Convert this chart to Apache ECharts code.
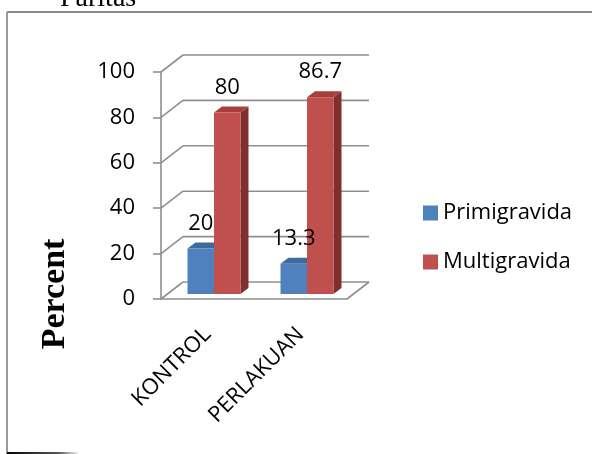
<!DOCTYPE html>
<html>
<head>
<meta charset="utf-8">
<script src="https://cdn.jsdelivr.net/npm/echarts@6/dist/echarts.min.js"></script>
<style>
  html, body { margin: 0; padding: 0; background: #fff; }
  #chart { width: 592px; height: 454px; }
</style>
</head>
<body>
<div id="chart"></div>
<script>
// Chart data
const categories = ['KONTROL', 'PERLAKUAN'];
const primigravida = [20, 13.3];
const multigravida = [80, 86.7];
const yTicks = [0, 20, 40, 60, 80, 100];
const seriesNames = ['Primigravida', 'Multigravida'];

// 3D look: depth offset of the back wall, the bar front plane and the bar thickness
const WALL_DX = 22, WALL_DY = -17;
const FRONT_DX = 6.5, FRONT_DY = -5;
const BAR_DX = 8, BAR_DY = -6;
const BAR_RATIO = 0.285;
const GRID_COLOR = '#8f8f8f';

const palette = [
  { front: '#4f81bd', top: '#3f6a9e', side: '#2f5487' },
  { front: '#c0504d', top: '#a6403d', side: '#7f302e' }
];

const chart = echarts.init(document.getElementById('chart'), null, { renderer: 'canvas' });

function renderWall(params, api) {
  const cs = params.coordSys;
  const v = api.value(1);
  const y = api.coord([0, v])[1];
  const x0 = cs.x, x1 = cs.x + cs.width;
  const style = { stroke: GRID_COLOR, lineWidth: 1.6 };
  const children = [
    { type: 'line', shape: { x1: x0, y1: y, x2: x0 + WALL_DX, y2: y + WALL_DY }, style: style },
    { type: 'line', shape: { x1: x0 + WALL_DX, y1: y + WALL_DY, x2: x1 + WALL_DX, y2: y + WALL_DY }, style: style }
  ];
  if (v === 0) {
    children.push({ type: 'line', shape: { x1: x1, y1: y, x2: x1 + WALL_DX, y2: y + WALL_DY }, style: style });
  }
  return { type: 'group', children: children };
}

// front-face geometry of one bar
function barBox(side, api) {
  const ci = api.value(0), v = api.value(1);
  const top = api.coord([ci, v]);
  const base = api.coord([ci, 0]);
  const bw = api.size([1, 0])[0] * BAR_RATIO;
  const xl = top[0] + (side === 0 ? -bw : 0) + FRONT_DX;
  return { v: v, xl: xl, xr: xl + bw, bw: bw, yt: top[1] + FRONT_DY, yb: base[1] + FRONT_DY };
}

function barRenderer(side) {
  const c = palette[side];
  return function (params, api) {
    const b = barBox(side, api);
    return {
      type: 'group',
      children: [
        { type: 'polygon', shape: { points: [[b.xr, b.yt], [b.xr + BAR_DX, b.yt + BAR_DY], [b.xr + BAR_DX, b.yb + BAR_DY], [b.xr, b.yb]] }, style: { fill: c.side } },
        { type: 'polygon', shape: { points: [[b.xl, b.yt], [b.xl + BAR_DX, b.yt + BAR_DY], [b.xr + BAR_DX, b.yt + BAR_DY], [b.xr, b.yt]] }, style: { fill: c.top } },
        { type: 'rect', shape: { x: b.xl, y: b.yt, width: b.bw, height: b.yb - b.yt }, style: { fill: c.front } }
      ]
    };
  };
}

function labelRenderer(side) {
  return function (params, api) {
    const b = barBox(side, api);
    return {
      type: 'text',
      style: { x: b.xl + b.bw / 2, y: b.yt - 25, text: String(b.v), fill: '#000', font: '22px "Open Sans"', textAlign: 'center', textVerticalAlign: 'middle' }
    };
  };
}

const option = {
  animation: false,
  backgroundColor: '#fff',
  grid: { left: 161, top: 72, width: 186, height: 227 },
  legend: {
    data: seriesNames.map(n => ({ name: n, icon: 'rect' })),
    orient: 'vertical',
    left: 418,
    top: 196,
    itemWidth: 15,
    itemHeight: 15,
    itemGap: 25,
    textStyle: { fontFamily: 'Open Sans', fontSize: 22, color: '#000', lineHeight: 24 }
  },
  xAxis: {
    type: 'category',
    data: categories,
    axisLine: { show: true, lineStyle: { color: GRID_COLOR, width: 1.6 } },
    axisTick: { show: false },
    axisLabel: { rotate: 45, margin: 32, fontFamily: 'Open Sans', fontSize: 22, color: '#000', interval: 0 },
    splitLine: { show: false }
  },
  yAxis: {
    type: 'value',
    min: 0,
    max: 100,
    interval: 20,
    axisLine: { show: true, lineStyle: { color: GRID_COLOR, width: 1.6 } },
    axisTick: { show: true, length: 8, lineStyle: { color: GRID_COLOR, width: 1.6 } },
    axisLabel: { margin: 26, fontFamily: 'Open Sans', fontSize: 22, color: '#000' },
    splitLine: { show: false }
  },
  graphic: [
    { type: 'line', shape: { x1: 7, y1: 12, x2: 592, y2: 12 }, style: { stroke: '#8a8a8a', lineWidth: 2 } },
    { type: 'line', shape: { x1: 7, y1: 12, x2: 7, y2: 454 }, style: { stroke: '#9a9a9a', lineWidth: 2 } },
    {
      type: 'line', shape: { x1: 7, y1: 453, x2: 78, y2: 453 },
      style: {
        lineWidth: 2,
        stroke: new echarts.graphic.LinearGradient(0, 0, 1, 0, [
          { offset: 0, color: '#000' }, { offset: 0.7, color: '#555' }, { offset: 1, color: '#fff' }
        ])
      }
    },
    { type: 'text', x: 60, y: 13, style: { text: 'Paritas', font: '28px "Liberation Serif"', fill: '#000', textVerticalAlign: 'bottom' } },
    {
      type: 'text', x: 55, y: 294, rotation: Math.PI / 2,
      style: { text: 'Percent', font: 'bold 34px "Liberation Serif"', fill: '#000', textAlign: 'center', textVerticalAlign: 'middle' }
    }
  ],
  series: [
    { type: 'custom', name: 'walls', renderItem: renderWall, data: yTicks.map(v => [0, v]), silent: true, z: 1 },
    {
      type: 'custom', name: seriesNames[0], renderItem: barRenderer(0), z: 3,
      itemStyle: { color: palette[0].front },
      data: primigravida.map((v, i) => [i, v])
    },
    {
      type: 'custom', name: seriesNames[1], renderItem: barRenderer(1), z: 4,
      itemStyle: { color: palette[1].front },
      data: multigravida.map((v, i) => [i, v])
    },
    { type: 'custom', name: 'labels-0', renderItem: labelRenderer(0), z: 6, silent: true, data: primigravida.map((v, i) => [i, v]) },
    { type: 'custom', name: 'labels-1', renderItem: labelRenderer(1), z: 6, silent: true, data: multigravida.map((v, i) => [i, v]) }
  ]
};

chart.setOption(option);
</script>
</body>
</html>
